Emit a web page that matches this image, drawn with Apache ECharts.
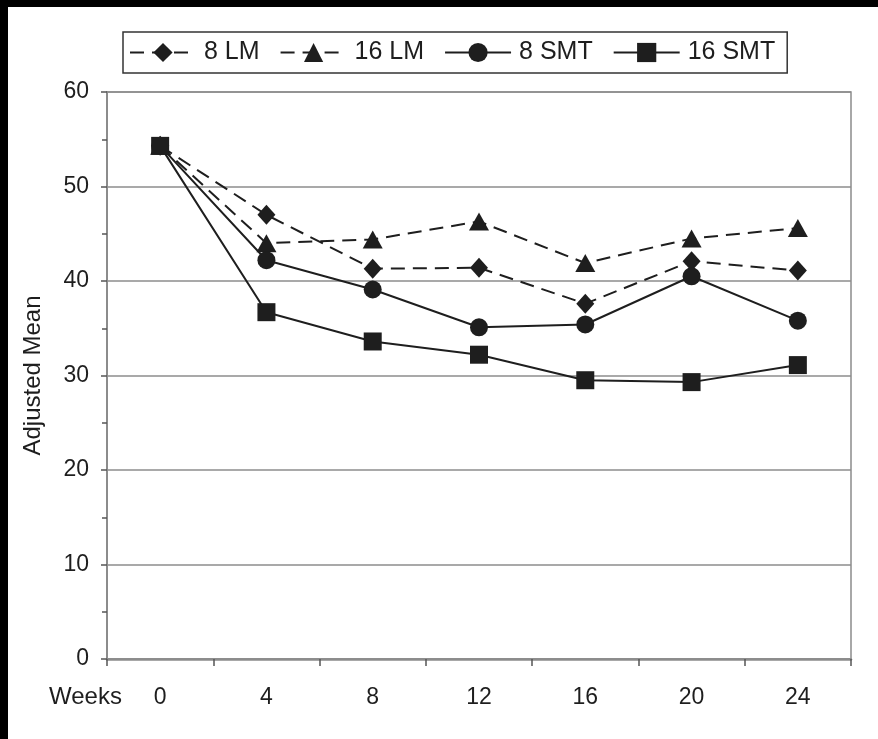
<!DOCTYPE html>
<html>
<head>
<meta charset="utf-8">
<script src="https://cdn.jsdelivr.net/npm/echarts@6/dist/echarts.min.js"></script>
<style>
  html, body { margin: 0; padding: 0; background: #fff; }
  #chart { width: 878px; height: 739px; }
</style>
</head>
<body>
<div id="chart"></div>
<script>
// Week categories along the x axis
const weeks = ['0', '4', '8', '12', '16', '20', '24'];

// Adjusted mean per group at each week
const lm8 = [54.3, 47.0, 41.3, 41.4, 37.6, 42.1, 41.1];
const lm16 = [54.3, 44.0, 44.4, 46.3, 41.9, 44.5, 45.6];
const smt8 = [54.3, 42.2, 39.1, 35.1, 35.4, 40.5, 35.8];
const smt16 = [54.3, 36.7, 33.6, 32.2, 29.5, 29.3, 31.1];

const seriesNames = ['8 LM', '16 LM', '8 SMT', '16 SMT'];

const FONT = 'Liberation Sans, Arial, sans-serif';
const INK = '#1e1e1e';
const GRID_GRAY = '#8c8c8c';
const DASH = [14, 8];

function lineSeries(name, data, symbol, size, dashed) {
  return {
    name: name,
    type: 'line',
    data: data,
    symbol: symbol,
    symbolSize: size,
    showSymbol: true,
    animation: false,
    itemStyle: { color: INK },
    lineStyle: { color: INK, width: 2, type: dashed ? DASH : 'solid' },
    emphasis: { disabled: true }
  };
}

const chart = echarts.init(document.getElementById('chart'), null, { renderer: 'canvas' });

chart.setOption({
  backgroundColor: '#fff',
  animation: false,
  grid: {
    left: 107, top: 92, right: 27, bottom: 80,
    show: true, borderColor: GRID_GRAY, borderWidth: 1.5
  },
  legend: {
    data: seriesNames,
    left: 123, top: 32,
    padding: [8, 12, 8, 6],
    itemGap: 20,
    itemWidth: 66,
    itemHeight: 24,
    borderColor: '#333',
    borderWidth: 1.5,
    textStyle: { fontFamily: FONT, fontSize: 25, color: INK, padding: [0, 0, 0, 3] }
  },
  xAxis: {
    type: 'category',
    data: weeks,
    boundaryGap: true,
    axisLine: { lineStyle: { color: GRID_GRAY, width: 2.5 } },
    axisTick: { show: true, interval: 0, length: 7, lineStyle: { color: '#555', width: 1.5 } },
    axisLabel: { fontFamily: FONT, fontSize: 23, color: INK, margin: 27 },
    splitLine: { show: false }
  },
  yAxis: {
    type: 'value',
    min: 0, max: 60, interval: 10,
    name: 'Adjusted Mean',
    nameLocation: 'middle',
    nameGap: 62,
    nameTextStyle: { fontFamily: FONT, fontSize: 24, color: INK },
    axisLine: { show: true, lineStyle: { color: GRID_GRAY, width: 2 } },
    axisTick: { show: true, length: 6, lineStyle: { color: '#555', width: 1.5 } },
    minorTick: { show: true, splitNumber: 2, length: 5, lineStyle: { color: '#555', width: 1.5 } },
    axisLabel: { fontFamily: FONT, fontSize: 23, color: INK, margin: 18 },
    splitLine: { show: true, lineStyle: { color: GRID_GRAY, width: 1.5 } }
  },
  graphic: [
    { type: 'rect', left: 0, top: 0, shape: { width: 878, height: 7 }, style: { fill: '#000' }, z: 100 },
    { type: 'rect', left: 0, top: 0, shape: { width: 8, height: 739 }, style: { fill: '#000' }, z: 100 },
    {
      type: 'text', left: 49, top: 685,
      style: { text: 'Weeks', fontFamily: FONT, fontSize: 24, fill: INK }
    }
  ],
  series: [
    lineSeries(seriesNames[0], lm8, 'diamond', [18, 20], true),
    lineSeries(seriesNames[1], lm16, 'triangle', [20, 18], true),
    lineSeries(seriesNames[2], smt8, 'circle', 18, false),
    lineSeries(seriesNames[3], smt16, 'rect', 18, false)
  ]
});
</script>
</body>
</html>
